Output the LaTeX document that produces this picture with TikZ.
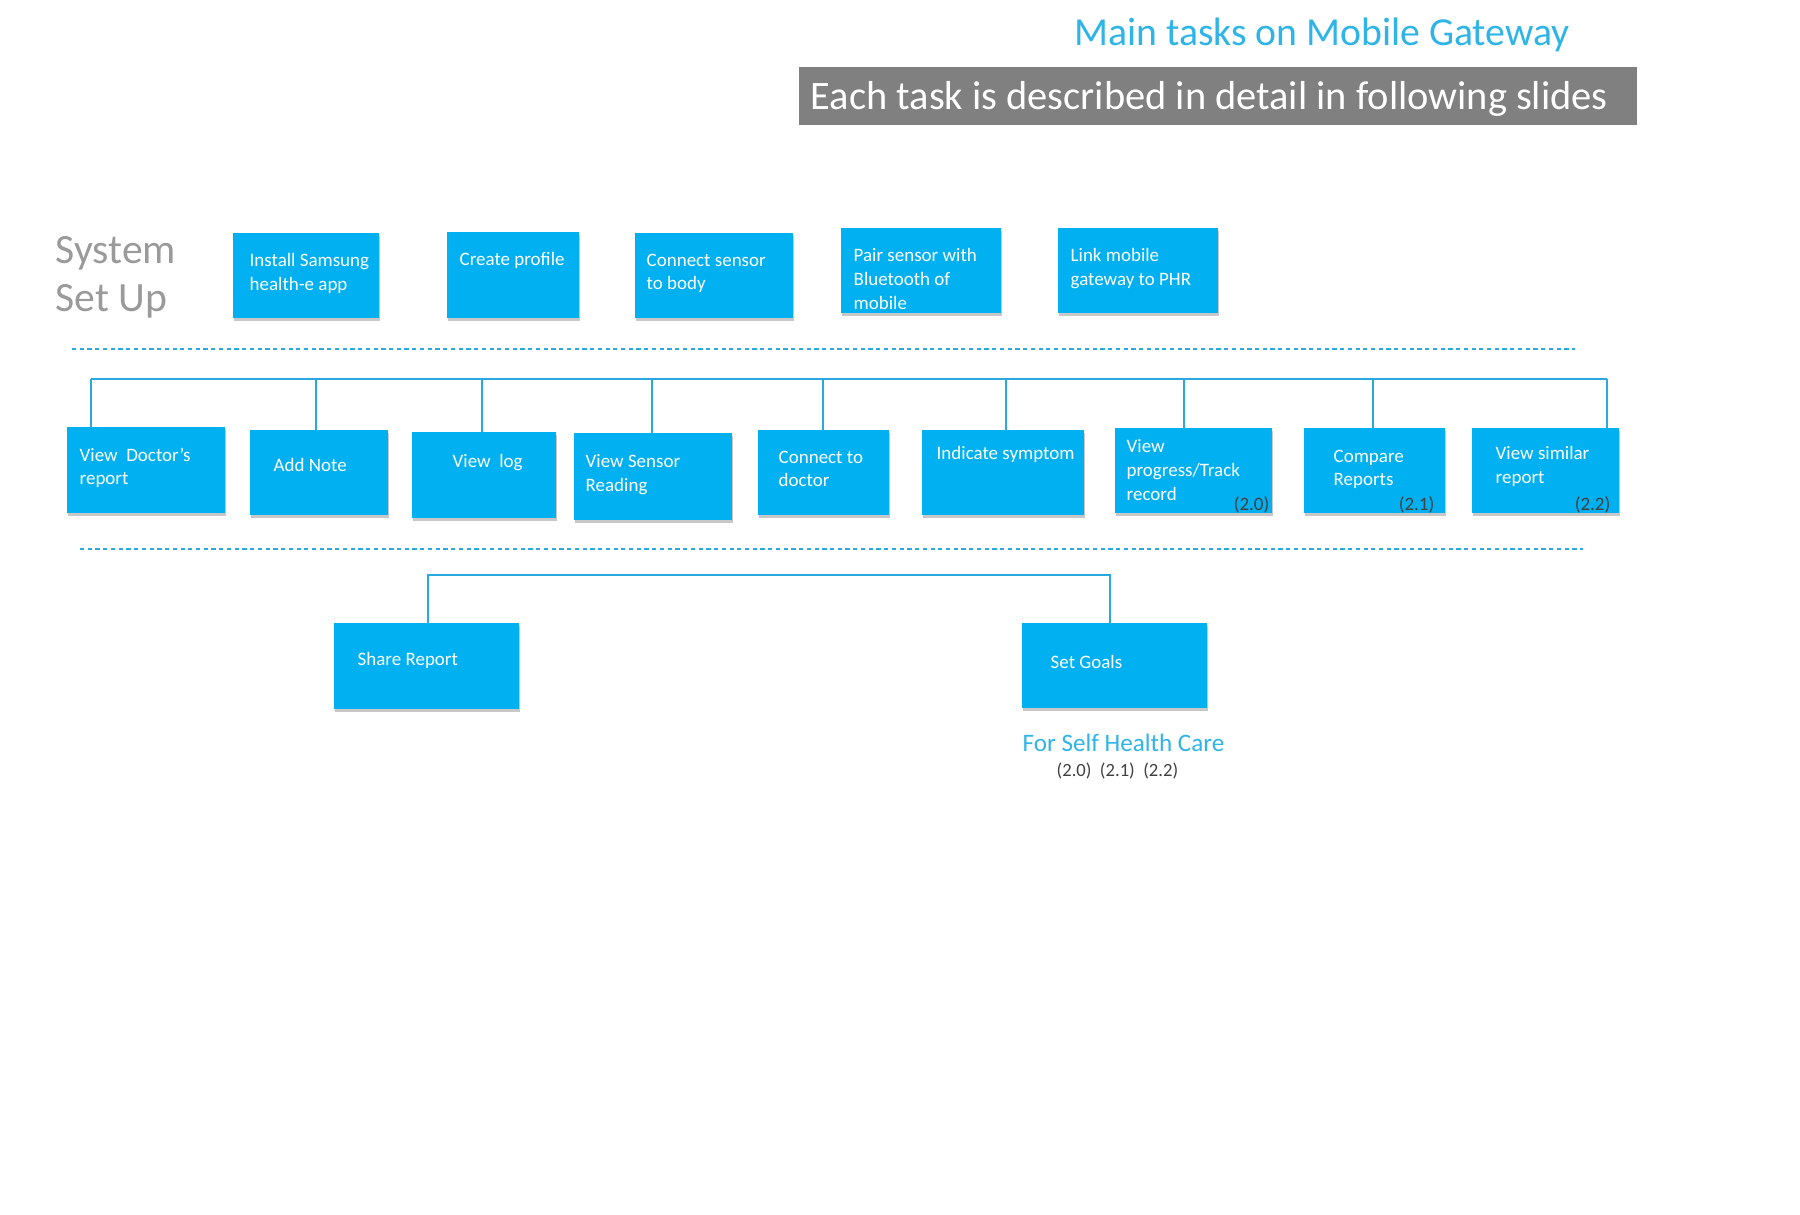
\documentclass[tikz,border=0pt]{standalone}
\usepackage{fontspec}
\setmainfont{Carlito}
\usetikzlibrary{shadows,calc}
\definecolor{boxblue}{HTML}{00B0F0}
\definecolor{titleblue}{HTML}{2EB4E6}
\definecolor{lineblue}{HTML}{2AA9E0}
\definecolor{bannergray}{HTML}{808080}
\definecolor{setgray}{HTML}{9A9A9A}
\definecolor{numgray}{HTML}{404040}
\newcommand\boxfont{\fontsize{5.4}{6.8}\selectfont}
\newcommand\tbox[5]{\node[task, minimum width={((#4)-(#2))*0.01cm}, minimum height={((#5)-(#3))*0.01cm}] (#1) at ({((#2)+(#4))/200},{-((#3)+(#5))/200}) {};}
\tikzset{
  task/.style={fill=boxblue, draw=none, inner sep=0pt, outer sep=0pt,
    drop shadow={shadow xshift=0.4pt, shadow yshift=-0.8pt, opacity=0.22, fill=black}},
  ttxt/.style={anchor=north west, text=white, font=\boxfont, align=left, inner sep=0pt},
  conn/.style={draw=lineblue, line width=0.45pt},
  dline/.style={draw=lineblue, line width=0.45pt, dash pattern=on 1.2pt off 1pt},
  numtxt/.style={anchor=east, text=numgray, font=\boxfont, inner sep=0pt},
}
\begin{document}
\begin{tikzpicture}
\useasboundingbox (0,0) rectangle (18,-12.15);
% title and banner
\node[text=titleblue, font=\fontsize{11.3}{13}\selectfont, inner sep=0pt] (title) at (13.22,-0.35) {Main tasks on Mobile Gateway};
\node[fill=bannergray, minimum width=8.38cm, minimum height=0.58cm, inner sep=0pt] (banner) at (12.18,-0.96) {};
\node[anchor=west, text=white, font=\fontsize{11.5}{13}\selectfont, inner sep=0pt] (bannertxt) at (8.10,-0.99) {Each task is described in detail in following slides};
% system set up label
\node[anchor=north west, text=setgray, font=\fontsize{11.85}{13.7}\selectfont, align=left, inner sep=0pt] (setup) at (0.55,-2.36) {System\\Set Up};
% row 1
\tbox{b1}{233}{233}{379}{318}
\tbox{b2}{447}{232}{579}{318}
\tbox{b3}{635}{233}{793}{318}
\tbox{b4}{841}{228}{1001}{313}
\tbox{b5}{1058}{228}{1218}{313}
\node[ttxt] (t1) at (2.49,-2.53) {Install Samsung\\health-e app};
\node[ttxt] (t2) at (4.59,-2.52) {Create profile};
\node[ttxt] (t3) at (6.46,-2.53) {Connect sensor\\to body};
\node[ttxt] (t4) at (8.53,-2.48) {Pair sensor with\\Bluetooth of\\mobile};
\node[ttxt] (t5) at (10.70,-2.48) {Link mobile\\gateway to PHR};
% dashed separators
\coordinate (da1) at (0.72,-3.49); \coordinate (da2) at (15.75,-3.49);
\coordinate (db1) at (0.80,-5.49); \coordinate (db2) at (15.83,-5.49);
\draw[dline] (da1) -- (da2);
\draw[dline] (db1) -- (db2);
% row 2
\tbox{c1}{67}{427}{225}{513}
\tbox{c2}{250}{430}{388}{515}
\tbox{c3}{412}{432}{556}{518}
\tbox{c4}{574}{433}{732}{520}
\tbox{c5}{758}{430}{889}{515}
\tbox{c6}{922}{430}{1084}{515}
\tbox{c7}{1115}{428}{1272}{513}
\tbox{c8}{1304}{428}{1445}{513}
\tbox{c9}{1472}{428}{1619}{513}
\node[ttxt] (u1) at (0.79,-4.47) {View\ \ Doctor’s\\report};
\node[ttxt] (u2) at (2.73,-4.58) {Add Note};
\node[ttxt] (u3) at (4.52,-4.54) {View\ \ log};
\node[ttxt] (u4) at (5.85,-4.54) {View Sensor\\Reading};
\node[ttxt] (u5) at (7.78,-4.50) {Connect to\\doctor};
\node[ttxt] (u6) at (9.36,-4.46) {Indicate symptom};
\node[ttxt] (u7) at (11.26,-4.39) {View\\progress/Track\\record};
\node[ttxt] (u8) at (13.33,-4.49) {Compare\\Reports};
\node[ttxt] (u9) at (14.95,-4.46) {View similar\\report};
\node[numtxt] (n7) at (12.70,-5.05) {(2.0)};
\node[numtxt] (n8) at (14.35,-5.05) {(2.1)};
\node[numtxt] (n9) at (16.11,-5.05) {(2.2)};
% row 2 bus
\coordinate (k1) at (0.91,-3.79);
\coordinate (k2) at (3.16,-3.79);
\coordinate (k3) at (4.82,-3.79);
\coordinate (k4) at (6.52,-3.79);
\coordinate (k5) at (8.23,-3.79);
\coordinate (k6) at (10.06,-3.79);
\coordinate (k7) at (11.84,-3.79);
\coordinate (k8) at (13.73,-3.79);
\coordinate (k9) at (16.07,-3.79);
\draw[conn] (k1) -- (k9);
\foreach \i in {1,...,9} { \draw[conn] (k\i) -- (k\i |- c\i.north); }
% row 3
\tbox{d1}{334}{623}{519}{709}
\tbox{d2}{1022}{623}{1207}{708}
\node[ttxt] (v1) at (3.57,-6.52) {Share Report};
\node[ttxt] (v2) at (10.50,-6.55) {Set Goals};
\coordinate (m1) at (4.28,-5.75);
\coordinate (m2) at (11.10,-5.75);
\draw[conn] (m1 |- d1.north) -- (m1) -- (m2) -- (m2 |- d2.north);
% notes
\node[anchor=west, text=titleblue, font=\fontsize{7.15}{8.5}\selectfont, inner sep=0pt] (selfcare) at (10.22,-7.43) {For Self Health Care};
\node[anchor=west, text=numgray, font=\fontsize{5.3}{6.5}\selectfont, inner sep=0pt] (nums) at (10.56,-7.71) {(2.0)\ \ (2.1)\ \ (2.2)};
\end{tikzpicture}
\end{document}
